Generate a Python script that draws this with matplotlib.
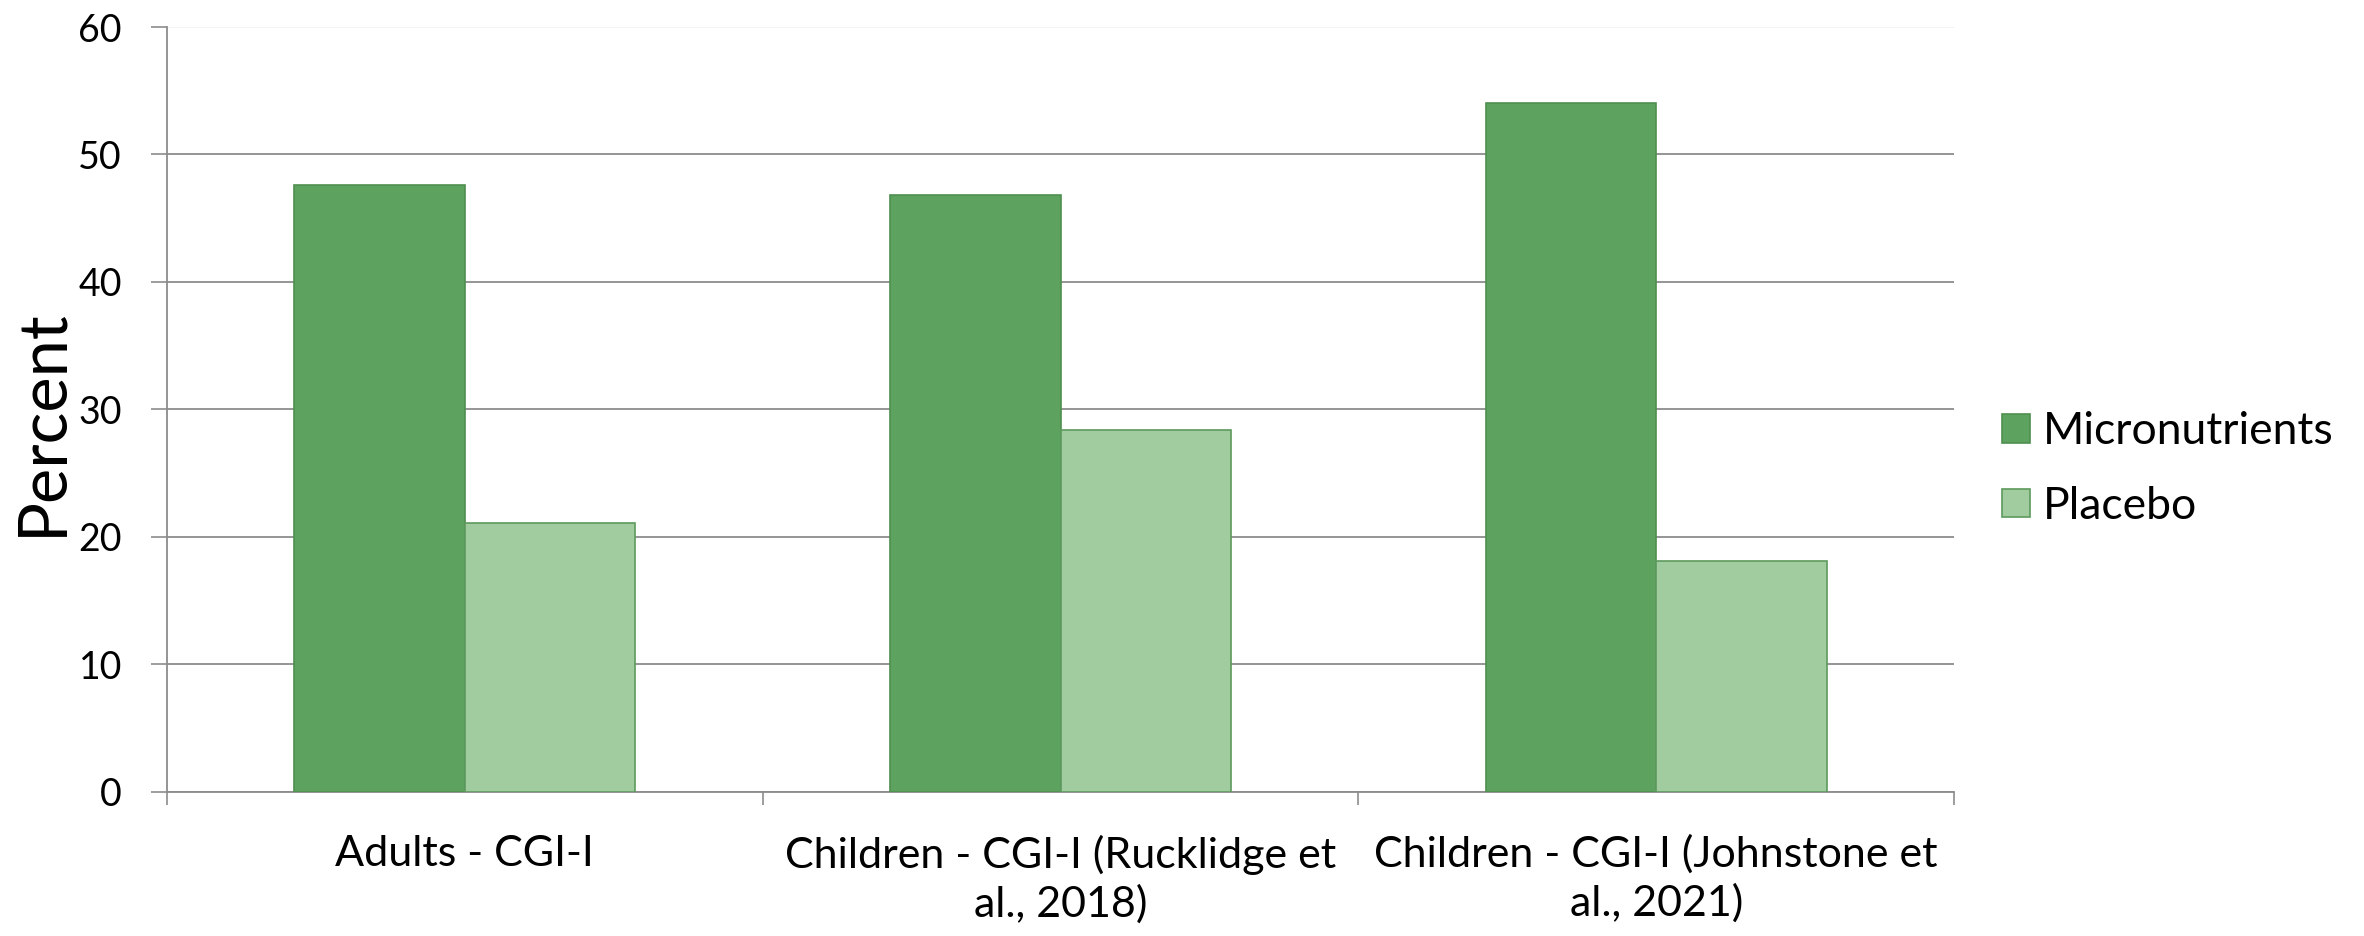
import matplotlib
matplotlib.use("Agg")
import matplotlib.pyplot as plt
import numpy as np

categories = ["Adults - CGI-I",
              "Children - CGI-I (Rucklidge et\nal., 2018)",
              "Children - CGI-I (Johnstone et\nal., 2021)"]
micronutrients = [47.6, 46.8, 54.0]
placebo = [21.1, 28.4, 18.1]
series_names = ["Micronutrients", "Placebo"]
yticks = [0, 10, 20, 30, 40, 50, 60]

plt.rcParams['font.family'] = ['Lato', 'DejaVu Sans']

W, H = 2364, 936
fig = plt.figure(figsize=(W / 100, H / 100), dpi=100)
left, right, top, bottom = 167, 1954, 27, 791.5
ax = fig.add_axes([left / W, 1 - bottom / H, (right - left) / W, (bottom - top) / H])

grey = "#8c8c8c"
x = np.arange(len(categories))
w = 0.286
ax.bar(x - w / 2, micronutrients, w, color="#5ea25f", edgecolor="#4f8f50",
       linewidth=1.2, label=series_names[0], zorder=3)
ax.bar(x + w / 2, placebo, w, color="#a0cca0", edgecolor="#5e9a5e",
       linewidth=1.2, label=series_names[1], zorder=3)

ax.set_xlim(-0.5, len(categories) - 0.5)
ax.set_ylim(0, 60)

# y axis
ax.set_yticks(yticks)
ax.set_yticklabels([str(v) for v in yticks], fontsize=27)
ax.tick_params(axis="y", direction="out", length=11.5, width=1.2, color=grey, pad=21)
ax.yaxis.grid(True, color=grey, linewidth=1.3, zorder=0)
ax.get_ygridlines()[-1].set_color("#f2f2f2")
ax.set_axisbelow(True)

# x axis: separators as major ticks, labels on minor ticks
ax.set_xticks(np.arange(-0.5, len(categories), 1.0))
ax.set_xticklabels([])
ax.set_xticks(x, minor=True)
ax.set_xticklabels(categories, minor=True, fontsize=31, linespacing=1.3)
ax.tick_params(axis="x", which="major", direction="out", length=9, width=1.2, color=grey)
ax.tick_params(axis="x", which="minor", length=0, pad=31)

for s in ["top", "right"]:
    ax.spines[s].set_visible(False)
for s in ["left", "bottom"]:
    ax.spines[s].set_color(grey)
    ax.spines[s].set_linewidth(1.3)

fig.text(42 / W, 1 - 422 / H, "Percent", rotation=90, fontsize=48,
         ha="center", va="center")

fig.legend(loc="center left", bbox_to_anchor=(2002 / W, 1 - 469 / H),
           bbox_transform=fig.transFigure, frameon=False, fontsize=32,
           handlelength=0.62, handleheight=0.62, handletextpad=0.3,
           labelspacing=0.75, borderpad=0, borderaxespad=0)

fig.savefig("out.png", dpi=100)
